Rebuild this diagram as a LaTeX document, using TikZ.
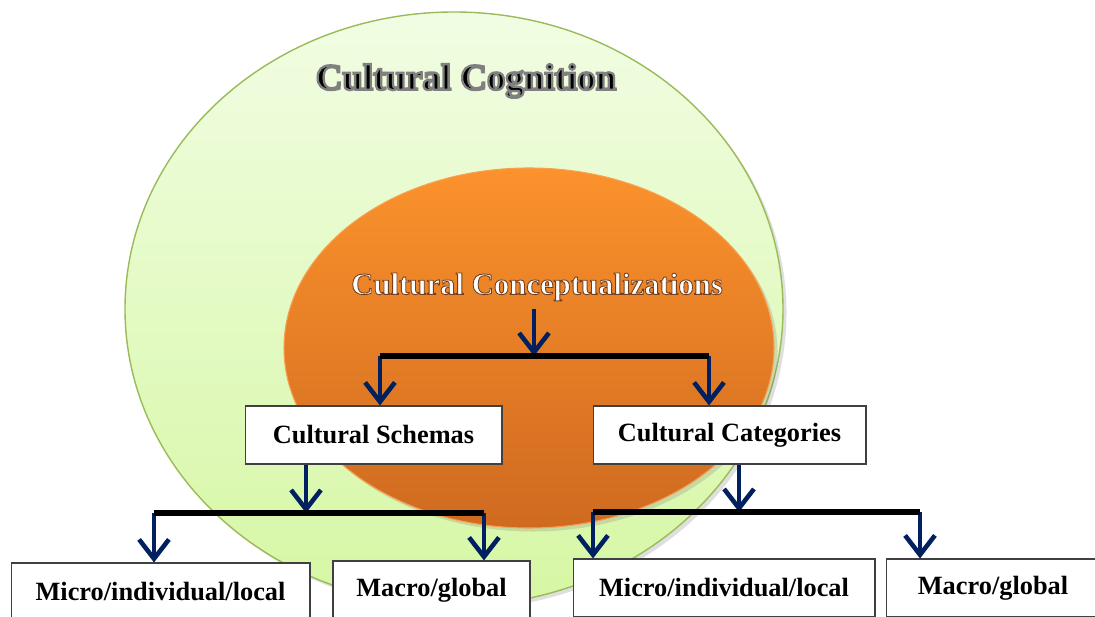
\documentclass[tikz,border=0pt]{standalone}
\usepackage{fontspec}
\setmainfont{Liberation Serif}
\usetikzlibrary{arrows.meta,shadows}
\definecolor{navy}{HTML}{002060}
\definecolor{leafline}{HTML}{9BBB59}
\definecolor{leaftop}{HTML}{F1FDE3}
\definecolor{leafbot}{HTML}{D6F7A4}
\definecolor{ambertop}{HTML}{FB922C}
\definecolor{amberbot}{HTML}{CF6A20}
\definecolor{amberline}{HTML}{F8A050}
\newcommand\strokedtext[2]{\special{pdf:literal direct 2 Tr #1}#2\special{pdf:literal direct 0 Tr}}
\tikzset{
  box/.style={draw=black!75, line width=0.6pt, fill=white, font=\bfseries\fontsize{15}{18}\selectfont, minimum height=1.16cm, inner sep=0pt},
  down/.style={draw=navy, line width=2.6pt, -{Straight Barb[length=11pt,width=17pt]}},
  bar/.style={draw=black, line width=3pt},
}

\begin{document}
\begin{tikzpicture}[x=0.02cm,y=-0.02cm]
                \useasboundingbox (0,0) rectangle (1095,617);
                \clip (0,0) rectangle (1095,617);
                \fill[white] (0,0) rectangle (1095,617);
                \draw[leafline, line width=0.8pt, top color=leaftop, bottom color=leafbot, drop shadow={opacity=0.25,shadow xshift=2pt,shadow yshift=-2pt}] (454,309) ellipse (329 and 297);
                \draw[amberline, line width=0.6pt, top color=ambertop, bottom color=amberbot, drop shadow={opacity=0.25,shadow xshift=2pt,shadow yshift=-2pt}] (529,348) ellipse (245 and 180);
                \node (cognition) at (466,81) {\fontsize{21}{24}\selectfont\bfseries\strokedtext{1.3 w 0.5 G}{Cultural Cognition}};
                \node[text=white] (concept) at (537,287) {\fontsize{17.5}{20}\selectfont\bfseries\strokedtext{0.5 w 0.45 0.25 0.12 RG}{Cultural Conceptualizations}};
                \node[box, minimum width=5.14cm] (schemas) at (373.5,435) {Cultural Schemas};
                \node[box, minimum width=5.46cm] (categories) at (729.5,435) {Cultural Categories};
                \node[box, minimum width=5.98cm] (microL) at (160.5,592) {Micro/individual/local};
                \node[box, minimum width=3.94cm] (macroL) at (431.5,590) {Macro/global};
                \node[box, minimum width=6.04cm] (microR) at (724,588) {Micro/individual/local};
                \node[box, minimum width=4.28cm] (macroR) at (993,588) {Macro/global};
                \coordinate (cs) at (534,309);
                \coordinate (tb) at (534,356);
                \coordinate (tbL) at (380,356);
                \coordinate (tbR) at (709,356);
                \coordinate (lb) at (306,513);
                \coordinate (lbL) at (154,513);
                \coordinate (lbR) at (484,513);
                \coordinate (rb) at (739,512);
                \coordinate (rbL) at (593,512);
                \coordinate (rbR) at (920,512);
                \draw[down] (cs) -- (tb);
                \draw[down] (tbL) -- (tbL |- schemas.north);
                \draw[down] (tbR) -- (tbR |- categories.north);
                \draw[down] (schemas.south -| lb) -- (lb);
                \draw[down] (lbL) -- (lbL |- microL.north);
                \draw[down] (lbR) -- (lbR |- macroL.north);
                \draw[down] (categories.south -| rb) -- (rb);
                \draw[down] (rbL) -- (rbL |- microR.north);
                \draw[down] (rbR) -- (rbR |- macroR.north);
                \draw[bar] (tbL) -- (tbR);
                \draw[bar] (lbL) -- (lbR);
                \draw[bar] (rbL) -- (rbR);
            \end{tikzpicture}
\end{document}
